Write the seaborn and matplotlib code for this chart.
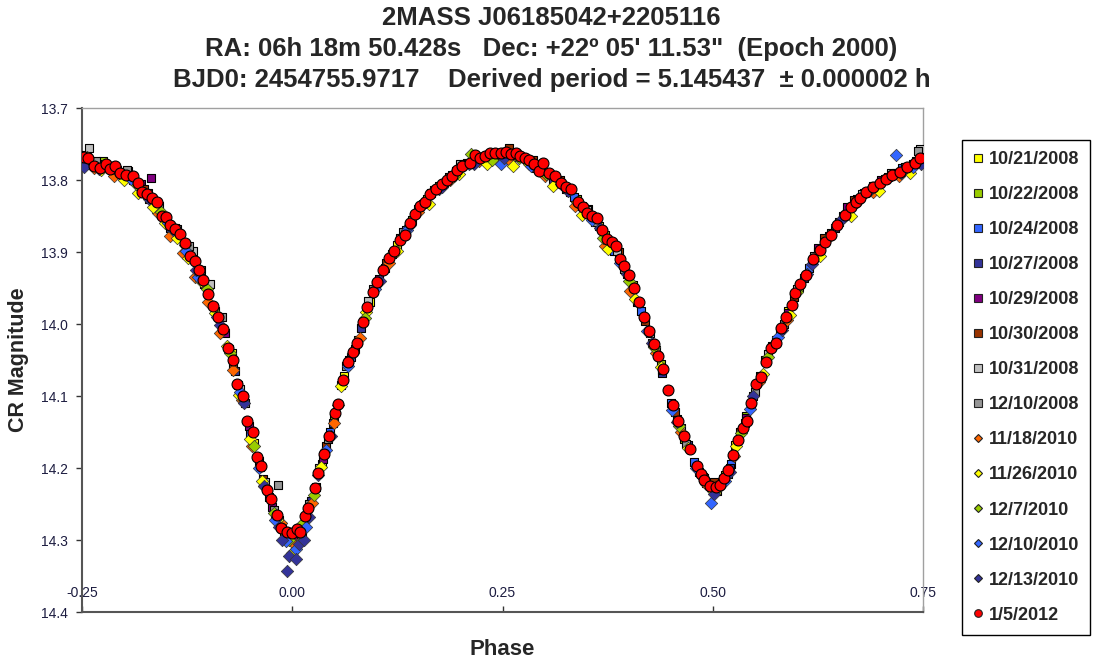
import matplotlib
matplotlib.use("Agg")
import matplotlib.pyplot as plt
from matplotlib.lines import Line2D
import seaborn as sns
import pandas as pd

# ---- data: (phase, CR magnitude) per night ----
n_20081021 = [(-0.240, 13.776), (-0.205, 13.792), (-0.170, 13.826), (-0.135, 13.876), (-0.100, 13.950),
              (-0.072, 14.040), (-0.045, 14.165), (-0.020, 14.268), (0.004, 14.305), (0.012, 14.290),
              (0.035, 14.195), (0.062, 14.072), (0.092, 13.970), (0.125, 13.890), (0.160, 13.826),
              (0.195, 13.788), (0.230, 13.768), (0.262, 13.768), (0.295, 13.786), (0.330, 13.816),
              (0.365, 13.864), (0.398, 13.930), (0.428, 14.026), (0.458, 14.132), (0.488, 14.212),
              (0.505, 14.232), (0.527, 14.168), (0.556, 14.072), (0.590, 13.982), (0.625, 13.900),
              (0.660, 13.845), (0.695, 13.808), (0.730, 13.784)]
n_20081022 = [(-0.246, 13.765), (-0.225, 13.774), (-0.195, 13.788), (-0.160, 13.835), (-0.126, 13.893),
              (-0.092, 13.982), (-0.064, 14.085), (-0.038, 14.198), (-0.010, 14.288), (0.008, 14.296),
              (0.028, 14.226), (0.050, 14.130), (0.078, 14.022), (0.110, 13.922), (0.142, 13.856),
              (0.175, 13.808), (0.208, 13.776), (0.240, 13.766), (0.272, 13.768), (0.305, 13.793),
              (0.338, 13.826), (0.372, 13.876), (0.405, 13.946), (0.438, 14.055), (0.466, 14.160),
              (0.494, 14.222), (0.515, 14.210), (0.540, 14.128), (0.570, 14.030), (0.602, 13.948),
              (0.638, 13.878), (0.672, 13.826), (0.708, 13.796), (0.742, 13.774)]
n_20081024 = [(-0.238, 13.779), (-0.200, 13.796), (-0.150, 13.856), (-0.110, 13.930), (-0.075, 14.035),
              (-0.050, 14.152), (-0.028, 14.240), (-0.005, 14.296), (0.018, 14.262), (0.045, 14.150),
              (0.070, 14.046), (0.100, 13.944), (0.135, 13.870), (0.170, 13.814), (0.215, 13.772),
              (0.255, 13.766), (0.300, 13.790), (0.335, 13.824), (0.360, 13.858), (0.383, 13.898),
              (0.415, 13.982), (0.450, 14.110), (0.478, 14.192), (0.500, 14.230), (0.522, 14.194),
              (0.548, 14.100), (0.580, 14.008), (0.615, 13.922), (0.650, 13.858), (0.690, 13.808),
              (0.725, 13.784)]
n_20081027 = [(-0.232, 13.778), (-0.190, 13.800), (-0.145, 13.866), (-0.105, 13.944), (-0.068, 14.065),
              (-0.040, 14.190), (-0.016, 14.272), (0.002, 14.300), (0.022, 14.246), (0.048, 14.138),
              (0.082, 14.006), (0.118, 13.903), (0.155, 13.834), (0.190, 13.793), (0.225, 13.770),
              (0.265, 13.767), (0.310, 13.798), (0.345, 13.836), (0.378, 13.886), (0.410, 13.970),
              (0.440, 14.068), (0.470, 14.168), (0.496, 14.224), (0.520, 14.200), (0.546, 14.112),
              (0.575, 14.022), (0.608, 13.936), (0.645, 13.866), (0.680, 13.818), (0.718, 13.790),
              (0.748, 13.772)]
n_20081029 = [(-0.218, 13.782), (-0.180, 13.806), (-0.168, 13.797), (-0.120, 13.902), (-0.080, 14.012),
              (-0.052, 14.142), (-0.024, 14.254), (0.006, 14.296), (0.036, 14.188), (0.068, 14.050),
              (0.103, 13.938), (0.180, 13.804), (0.290, 13.783), (0.380, 13.888), (0.440, 14.064),
              (0.492, 14.221), (0.540, 14.130), (0.590, 13.985), (0.625, 13.894), (0.660, 13.838),
              (0.700, 13.800)]
n_20081030 = [(-0.244, 13.768), (-0.214, 13.780), (-0.176, 13.812), (-0.140, 13.866), (-0.104, 13.944),
              (-0.070, 14.056), (-0.035, 14.215), (-0.008, 14.292), (0.014, 14.280), (0.040, 14.170),
              (0.074, 14.035), (0.112, 13.915), (0.150, 13.840), (0.186, 13.796), (0.222, 13.770),
              (0.258, 13.755), (0.286, 13.772), (0.318, 13.800), (0.352, 13.840), (0.388, 13.900),
              (0.420, 13.996), (0.455, 14.122), (0.484, 14.206), (0.502, 14.220), (0.532, 14.150),
              (0.562, 14.050), (0.596, 13.962), (0.632, 13.880), (0.668, 13.828), (0.705, 13.798),
              (0.738, 13.778)]
n_20081031 = [(-0.242, 13.756), (-0.208, 13.786), (-0.172, 13.818), (-0.137, 13.868), (-0.118, 13.898),
              (-0.098, 13.945), (-0.062, 14.090), (-0.032, 14.220), (-0.012, 14.280), (0.010, 14.292),
              (0.032, 14.200), (0.058, 14.085), (0.090, 13.968), (0.128, 13.880), (0.165, 13.818),
              (0.200, 13.778), (0.245, 13.762), (0.280, 13.774), (0.315, 13.802), (0.350, 13.842),
              (0.386, 13.898), (0.425, 14.012), (0.462, 14.145), (0.490, 14.214), (0.512, 14.215),
              (0.538, 14.138), (0.566, 14.042), (0.600, 13.952), (0.640, 13.874), (0.678, 13.820),
              (0.712, 13.790), (0.746, 13.757)]
n_20081210 = [(-0.234, 13.774), (-0.196, 13.786), (-0.158, 13.836), (-0.123, 13.892), (-0.108, 13.925),
              (-0.084, 13.990), (-0.056, 14.110), (-0.017, 14.224), (-0.022, 14.258), (-0.002, 14.290),
              (0.020, 14.250), (0.042, 14.160), (0.064, 14.058), (0.096, 13.952), (0.132, 13.872),
              (0.168, 13.814), (0.205, 13.778), (0.250, 13.765), (0.292, 13.784), (0.325, 13.812),
              (0.362, 13.858), (0.395, 13.924), (0.432, 14.036), (0.468, 14.166), (0.498, 14.226),
              (0.518, 14.208), (0.550, 14.094), (0.585, 14.000), (0.620, 13.906), (0.655, 13.850),
              (0.692, 13.808), (0.728, 13.782), (0.744, 13.760)]
n_20101118 = [(-0.236, 13.784), (-0.212, 13.794), (-0.190, 13.800), (-0.175, 13.818), (-0.160, 13.846),
              (-0.145, 13.878), (-0.130, 13.902), (-0.116, 13.935), (-0.100, 13.970), (-0.086, 14.012),
              (-0.070, 14.064), (-0.060, 14.105), (-0.048, 14.170), (-0.034, 14.225), (-0.014, 14.276),
              (0.002, 14.306), (0.024, 14.248), (0.050, 14.138), (0.080, 14.020), (0.115, 13.915),
              (0.150, 13.845), (0.188, 13.800), (0.222, 13.774), (0.258, 13.772), (0.300, 13.795),
              (0.336, 13.836), (0.372, 13.892), (0.402, 13.954), (0.432, 14.040), (0.462, 14.150),
              (0.492, 14.222), (0.525, 14.184), (0.555, 14.080), (0.588, 13.994), (0.622, 13.908),
              (0.656, 13.852), (0.690, 13.816), (0.722, 13.794)]
n_20101126 = [(-0.228, 13.786), (-0.200, 13.800), (-0.183, 13.818), (-0.166, 13.838), (-0.151, 13.860),
              (-0.137, 13.880), (-0.124, 13.908), (-0.108, 13.940), (-0.092, 13.985), (-0.078, 14.030),
              (-0.063, 14.098), (-0.050, 14.160), (-0.036, 14.218), (-0.018, 14.272), (0.000, 14.318),
              (0.012, 14.300), (0.034, 14.198), (0.058, 14.086), (0.088, 13.984), (0.124, 13.898),
              (0.162, 13.833), (0.198, 13.792), (0.232, 13.778), (0.262, 13.780), (0.282, 13.778),
              (0.310, 13.808), (0.345, 13.848), (0.376, 13.896), (0.408, 13.965), (0.438, 14.060),
              (0.470, 14.172), (0.500, 14.232), (0.528, 14.170), (0.560, 14.070), (0.592, 13.988),
              (0.628, 13.906), (0.664, 13.850), (0.698, 13.815), (0.734, 13.790)]
n_20101207 = [(-0.244, 13.768), (-0.218, 13.780), (-0.186, 13.806), (-0.156, 13.844), (-0.128, 13.890),
              (-0.102, 13.952), (-0.074, 14.040), (-0.046, 14.170), (-0.022, 14.262), (-0.004, 14.300),
              (0.012, 14.278), (0.026, 14.238), (0.054, 14.112), (0.086, 13.992), (0.120, 13.902),
              (0.156, 13.832), (0.192, 13.794), (0.212, 13.764), (0.238, 13.772), (0.270, 13.770),
              (0.302, 13.792), (0.338, 13.830), (0.370, 13.880), (0.400, 13.940), (0.430, 14.032),
              (0.460, 14.142), (0.488, 14.212), (0.508, 14.226), (0.534, 14.152), (0.566, 14.046),
              (0.600, 13.956), (0.636, 13.882), (0.672, 13.830), (0.710, 13.796), (0.745, 13.775)]
n_20101210 = [(-0.226, 13.782), (-0.192, 13.798), (-0.148, 13.860), (-0.126, 13.898), (-0.112, 13.935),
              (-0.090, 13.990), (-0.062, 14.095), (-0.040, 14.200), (-0.020, 14.272), (-0.008, 14.302),
              (0.004, 14.312), (0.016, 14.282), (0.040, 14.175), (0.066, 14.058), (0.098, 13.952),
              (0.136, 13.870), (0.174, 13.812), (0.210, 13.778), (0.248, 13.778), (0.284, 13.780),
              (0.320, 13.806), (0.356, 13.856), (0.390, 13.915), (0.422, 14.010), (0.452, 14.120),
              (0.480, 14.200), (0.498, 14.248), (0.514, 14.218), (0.544, 14.118), (0.578, 14.018),
              (0.612, 13.930), (0.648, 13.862), (0.686, 13.815), (0.718, 13.765), (0.738, 13.782)]
n_20101213 = [(-0.248, 13.782), (-0.230, 13.785), (-0.206, 13.790), (-0.170, 13.826), (-0.142, 13.870),
              (-0.114, 13.925), (-0.086, 14.002), (-0.058, 14.110), (-0.034, 14.225), (-0.016, 14.282),
              (-0.012, 14.300), (-0.004, 14.322), (-0.006, 14.343), (0.004, 14.326), (0.008, 14.305),
              (0.014, 14.300), (0.020, 14.268), (0.030, 14.210), (0.046, 14.155), (0.072, 14.040),
              (0.104, 13.940), (0.140, 13.862), (0.178, 13.810), (0.216, 13.778), (0.252, 13.770),
              (0.290, 13.782), (0.328, 13.815), (0.366, 13.866), (0.398, 13.930), (0.428, 14.026),
              (0.458, 14.136), (0.486, 14.210), (0.502, 14.236), (0.520, 14.205), (0.548, 14.100),
              (0.582, 14.008), (0.618, 13.916), (0.652, 13.856), (0.688, 13.812), (0.724, 13.790),
              (0.748, 13.778)]
n_20120105 = [(-0.248, 13.768), (-0.243, 13.770), (-0.236, 13.781), (-0.229, 13.783), (-0.222, 13.778),
              (-0.217, 13.785), (-0.211, 13.781), (-0.205, 13.790), (-0.198, 13.793), (-0.190, 13.794),
              (-0.184, 13.804), (-0.179, 13.817), (-0.173, 13.820), (-0.167, 13.825), (-0.161, 13.830),
              (-0.155, 13.850), (-0.150, 13.852), (-0.145, 13.862), (-0.139, 13.868), (-0.133, 13.875),
              (-0.128, 13.888), (-0.122, 13.906), (-0.116, 13.912), (-0.111, 13.925), (-0.106, 13.939),
              (-0.100, 13.958), (-0.094, 13.975), (-0.088, 13.990), (-0.082, 14.007), (-0.076, 14.033),
              (-0.070, 14.050), (-0.066, 14.083), (-0.059, 14.100), (-0.054, 14.135), (-0.047, 14.150),
              (-0.042, 14.185), (-0.037, 14.197), (-0.030, 14.230), (-0.025, 14.243), (-0.018, 14.265),
              (-0.013, 14.283), (-0.006, 14.289), (0.000, 14.290), (0.006, 14.285), (0.009, 14.289),
              (0.015, 14.267), (0.019, 14.256), (0.027, 14.228), (0.031, 14.207), (0.038, 14.180),
              (0.044, 14.155), (0.051, 14.124), (0.054, 14.111), (0.060, 14.078), (0.066, 14.053),
              (0.072, 14.039), (0.077, 14.026), (0.084, 13.997), (0.089, 13.976), (0.096, 13.956),
              (0.101, 13.942), (0.108, 13.925), (0.115, 13.908), (0.121, 13.898), (0.128, 13.884),
              (0.134, 13.876), (0.140, 13.860), (0.146, 13.847), (0.152, 13.836), (0.158, 13.830),
              (0.164, 13.820), (0.171, 13.813), (0.178, 13.806), (0.184, 13.800), (0.190, 13.794),
              (0.196, 13.786), (0.202, 13.780), (0.211, 13.776), (0.217, 13.765), (0.223, 13.769),
              (0.229, 13.766), (0.235, 13.763), (0.241, 13.762), (0.248, 13.763), (0.254, 13.761),
              (0.260, 13.764), (0.266, 13.763), (0.271, 13.767), (0.277, 13.770), (0.282, 13.772),
              (0.288, 13.778), (0.293, 13.787), (0.298, 13.776), (0.305, 13.790), (0.312, 13.795),
              (0.320, 13.804), (0.326, 13.810), (0.331, 13.813), (0.340, 13.830), (0.346, 13.838),
              (0.350, 13.846), (0.356, 13.850), (0.362, 13.853), (0.368, 13.870), (0.374, 13.882),
              (0.380, 13.886), (0.385, 13.892), (0.390, 13.910), (0.395, 13.920), (0.400, 13.932),
              (0.406, 13.950), (0.412, 13.970), (0.418, 13.990), (0.424, 14.010), (0.430, 14.028),
              (0.435, 14.044), (0.441, 14.062), (0.447, 14.092), (0.453, 14.112), (0.459, 14.135),
              (0.466, 14.155), (0.473, 14.174), (0.481, 14.197), (0.486, 14.208), (0.490, 14.217),
              (0.497, 14.225), (0.504, 14.226), (0.509, 14.224), (0.513, 14.214), (0.518, 14.203),
              (0.524, 14.182), (0.530, 14.161), (0.536, 14.144), (0.541, 14.135), (0.545, 14.110),
              (0.552, 14.083), (0.557, 14.073), (0.563, 14.053), (0.569, 14.033), (0.575, 14.026),
              (0.581, 14.005), (0.587, 13.990), (0.594, 13.974), (0.598, 13.957), (0.604, 13.945),
              (0.611, 13.932), (0.619, 13.910), (0.628, 13.897), (0.634, 13.886), (0.640, 13.876),
              (0.648, 13.862), (0.657, 13.849), (0.664, 13.838), (0.670, 13.830), (0.675, 13.825),
              (0.682, 13.816), (0.690, 13.810), (0.699, 13.804), (0.706, 13.798), (0.713, 13.793),
              (0.723, 13.789), (0.731, 13.782), (0.740, 13.776), (0.747, 13.770)]

nights = [n_20081021, n_20081022, n_20081024, n_20081027, n_20081029, n_20081030, n_20081031,
          n_20081210, n_20101118, n_20101126, n_20101207, n_20101210, n_20101213, n_20120105]
dates = ['10/21/2008', '10/22/2008', '10/24/2008', '10/27/2008', '10/29/2008', '10/30/2008',
         '10/31/2008', '12/10/2008', '11/18/2010', '11/26/2010', '12/7/2010', '12/10/2010',
         '12/13/2010', '1/5/2012']
colors = ['#FFFF00', '#99CC00', '#3366FF', '#333399', '#800080', '#993300', '#C0C0C0',
          '#969696', '#FF6600', '#FFFF00', '#99CC00', '#3366FF', '#333399', '#FF0000']
markers = ['s'] * 8 + ['D'] * 5 + ['o']

x_ticks = [-0.25, 0.0, 0.25, 0.50, 0.75]
x_labels = ['-0.25', '0.00', '0.25', '0.50', '0.75']
y_ticks = [13.7, 13.8, 13.9, 14.0, 14.1, 14.2, 14.3, 14.4]

title_lines = ['2MASS J06185042+2205116',
               'RA: 06h 18m 50.428s   Dec: +22º 05\' 11.53"  (Epoch 2000)',
               'BJD0: 2454755.9717    Derived period = 5.145437  ± 0.000002 h']

# ---- plot ----
sns.set_style("white")
plt.rcParams['font.family'] = ['Liberation Sans', 'DejaVu Sans']

fig = plt.figure(figsize=(10.94, 6.61), dpi=100)
ax = fig.add_axes([0.075, 0.0741, 0.7687, 0.7625])

for pts, date, col, mk in zip(nights, dates, colors, markers):
    df = pd.DataFrame(pts, columns=['phase', 'mag'])
    if mk == 'o':
        size, edge, lw = 62, '#000000', 0.8
    elif mk == 's':
        size, edge, lw = 40, '#000000', 0.8
    else:
        size, edge, lw = 40, '#333333', 0.5
    sns.scatterplot(data=df, x='phase', y='mag', marker=mk, color=col, s=size,
                    edgecolor=edge, linewidth=lw, ax=ax, legend=False, zorder=3)

ax.set_xlim(-0.25, 0.75)
ax.set_ylim(14.4, 13.7)
ax.set_xticks(x_ticks)
ax.set_xticklabels(x_labels)
ax.set_yticks(y_ticks)
ax.set_yticklabels([f'{v:.1f}' for v in y_ticks])

tick_col = '#1c1c40'
ax.tick_params(axis='x', direction='in', length=4, width=1, color='#333333',
               pad=-19, labelsize=10, labelcolor=tick_col)
ax.tick_params(axis='y', direction='out', length=4, width=1, color='#333333',
               pad=6, labelsize=10, labelcolor=tick_col, left=True)
ax.xaxis.set_ticks_position('bottom')

for side in ['left', 'bottom']:
    ax.spines[side].set_color('#555555')
    ax.spines[side].set_linewidth(1.5)
for side in ['top', 'right']:
    ax.spines[side].set_color('#a0a0a0')
    ax.spines[side].set_linewidth(1.0)

ax.set_xlabel('Phase', fontsize=16, fontweight='bold')
ax.xaxis.set_label_coords(0.5, -0.054)
ax.set_ylabel('CR Magnitude', fontsize=15.5, fontweight='bold', labelpad=9)

for txt, yy in zip(title_lines, [0.973, 0.926, 0.879]):
    fig.text(0.504, yy, txt, ha='center', va='center', fontsize=18.5, fontweight='bold')

handles = [Line2D([], [], linestyle='none', marker=mk, markersize=5.5 if mk != 'D' else 4.5,
                  markerfacecolor=col, markeredgecolor='#222222', markeredgewidth=0.8)
           for col, mk in zip(colors, markers)]
leg = fig.legend(handles, dates, loc='upper left', bbox_to_anchor=(0.879, 0.788),
                 frameon=True, fancybox=False, edgecolor='#000000', framealpha=1,
                 prop={'size': 13, 'weight': 'bold'}, labelspacing=1.0,
                 handlelength=0.6, handletextpad=0.3, borderpad=0.6, borderaxespad=0)
leg.get_frame().set_linewidth(1.0)

fig.savefig('out.png', dpi=100)
